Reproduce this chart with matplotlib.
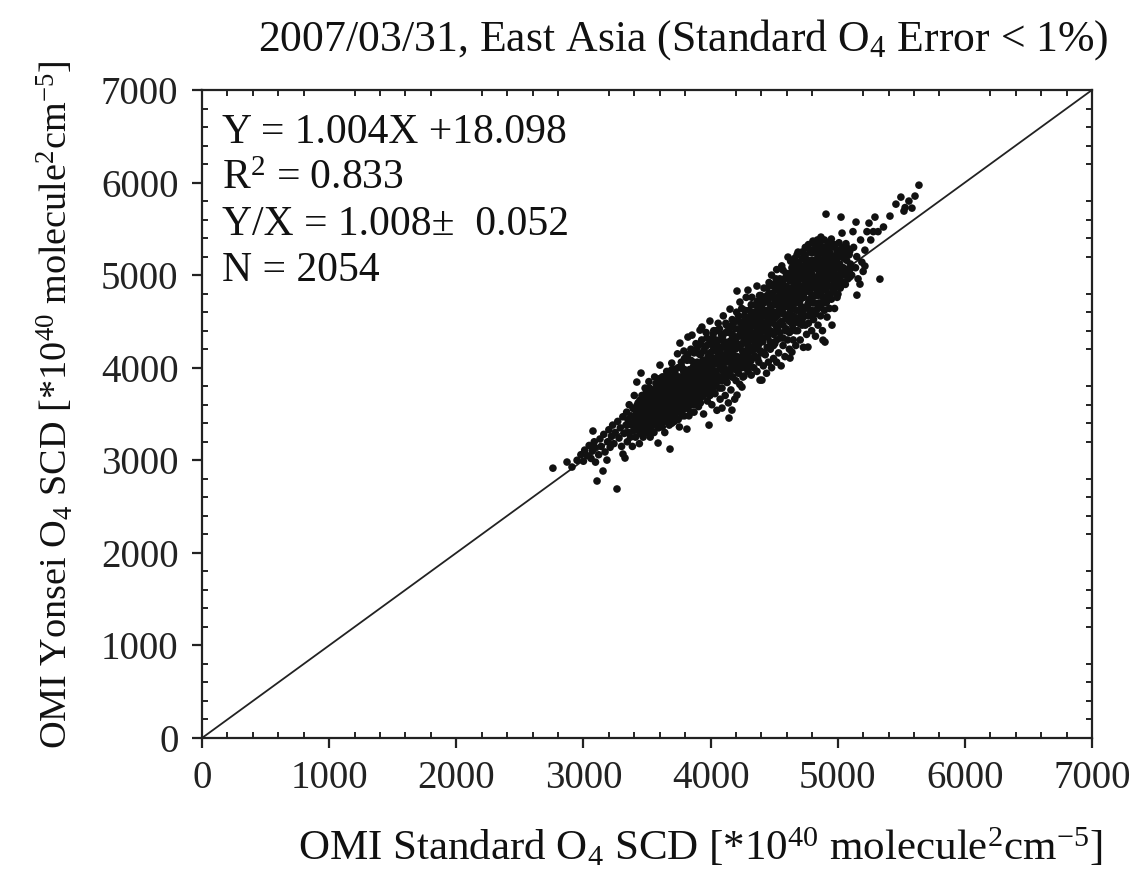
import numpy as np
import matplotlib
matplotlib.use("Agg")
import matplotlib.pyplot as plt
from matplotlib.ticker import MultipleLocator

plt.rcParams["font.family"] = ["Liberation Serif", "DejaVu Serif"]
plt.rcParams["mathtext.fontset"] = "custom"
plt.rcParams["mathtext.rm"] = "Liberation Serif"
plt.rcParams["mathtext.it"] = "Liberation Serif:italic"
plt.rcParams["mathtext.bf"] = "Liberation Serif:bold"

# --- data (OMI Standard, OMI Yonsei) ---------------------------------------
tail_low = [
    (2760, 2915), (2871, 2981), (2910, 2927), (2950, 3000), (2980, 3060), (3000, 2990),
    (3010, 3110), (3030, 3050), (3045, 3160), (3060, 3020), (3070, 3100), (3075, 3316),
    (3085, 3200), (3090, 3140), (3095, 2980), (3107, 2776), (3120, 3060), (3130, 3230),
    (3140, 3150), (3154, 2884), (3160, 3280), (3170, 3090), (3185, 3002), (3190, 3200),
    (3200, 3330), (3210, 3140), (3220, 3260), (3230, 3380), (3240, 3180), (3250, 3300),
    (3264, 2690), (3270, 3420), (3280, 3240), (3290, 3350), (3300, 3150), (3311, 3067),
    (3327, 3024), (3310, 3470), (3320, 3290),
]

band_mid = [
    (3335, 3380), (3340, 3520), (3345, 3200), (3350, 3440), (3355, 3300), (3360, 3600),
    (3370, 3250), (3375, 3480), (3380, 3380), (3385, 3150), (3390, 3560), (3395, 3320),
    (3400, 3420), (3400, 3700), (3410, 3250), (3415, 3500), (3420, 3845), (3425, 3360),
    (3430, 3620), (3435, 3450), (3440, 3180), (3445, 3550), (3450, 3300), (3453, 3942),
    (3455, 3400), (3460, 3700), (3465, 3500), (3470, 3250), (3475, 3620), (3480, 3380),
    (3485, 3780), (3490, 3460), (3495, 3560), (3500, 3320), (3505, 3650), (3510, 3420),
    (3515, 3850), (3520, 3520), (3525, 3250), (3530, 3600), (3535, 3380), (3540, 3720),
    (3545, 3470), (3550, 3560), (3555, 3300), (3560, 3900), (3565, 3650), (3570, 3420),
    (3575, 3780), (3580, 3520), (3585, 3600), (3587, 3186), (3590, 3350), (3595, 3700),
    (3600, 3460), (3602, 4028), (3605, 3580), (3610, 3820), (3615, 3400), (3620, 3660),
    (3625, 3520), (3630, 3900), (3635, 3740), (3640, 3300), (3645, 3600), (3650, 3450),
    (3655, 3960), (3660, 3680), (3665, 3540), (3670, 3820), (3675, 3380), (3680, 3620),
    (3681, 3121), (3685, 3750), (3690, 3480), (3695, 4050), (3700, 3560), (3705, 3880),
    (3710, 3700), (3715, 3420), (3720, 3980), (3725, 3620), (3730, 3800), (3735, 3520),
    (3740, 4150), (3745, 3700), (3750, 3900), (3755, 3360), (3759, 4266), (3760, 3620),
    (3765, 3780), (3770, 4020), (3775, 3480), (3780, 3860), (3785, 3680), (3790, 4180),
    (3795, 3560), (3800, 3940), (3805, 3760), (3810, 3620), (3814, 3337), (3815, 4080),
    (3820, 3880), (3822, 4331), (3825, 3700), (3830, 3480), (3835, 3980), (3840, 3820),
    (3845, 4200), (3850, 3600), (3854, 4352), (3855, 3900), (3860, 3740), (3865, 4060),
    (3870, 3520), (3875, 3960), (3880, 3820), (3885, 4260), (3890, 3680), (3895, 4000),
    (3900, 3880), (3905, 3580), (3910, 4150), (3915, 3780), (3917, 4406), (3920, 3960),
    (3925, 3680), (3930, 4300), (3932, 4439), (3935, 3860), (3940, 4080), (3945, 3500),
    (3950, 3980), (3955, 4220), (3960, 3760), (3965, 4380), (3970, 3900), (3975, 3640),
    (3980, 4120), (3985, 3820), (3988, 3380), (3990, 4020), (3995, 4504), (3995, 3700),
    (4000, 4260),
]

band_upper = [
    (4005, 3920), (4010, 3600), (4015, 4180), (4020, 3820), (4025, 4400), (4030, 4040),
    (4035, 3720), (4040, 4300), (4045, 3960), (4050, 3540), (4055, 4120), (4060, 4480),
    (4065, 3860), (4070, 4220), (4075, 3660), (4080, 4000), (4085, 4360), (4090, 3564),
    (4090, 3780), (4095, 4140), (4100, 4560), (4105, 3940), (4110, 4280), (4115, 3700),
    (4120, 4060), (4125, 4460), (4130, 3840), (4135, 4180), (4140, 3620), (4145, 3456),
    (4145, 4380), (4150, 3980), (4153, 4633), (4155, 4100), (4160, 3760), (4165, 4300),
    (4168, 3542), (4170, 4520), (4175, 3900), (4180, 4200), (4185, 4040), (4190, 3660),
    (4195, 4420), (4200, 3860), (4205, 4600), (4208, 3704), (4208, 4828), (4210, 4120),
    (4215, 3980), (4220, 4340), (4225, 4500), (4230, 3820), (4231, 4709), (4235, 4240),
    (4240, 4060), (4245, 4640), (4247, 3791), (4250, 4400), (4255, 3899), (4260, 4160),
    (4263, 3910), (4265, 4560), (4270, 4000), (4275, 4300), (4280, 4760), (4285, 4080),
    (4290, 4460), (4294, 4838), (4295, 3960), (4300, 4220), (4305, 4620), (4310, 4060),
    (4315, 4380), (4320, 3920), (4325, 4760), (4330, 4180), (4335, 4520), (4340, 4000),
    (4345, 4300), (4350, 4680), (4355, 4120), (4360, 4440), (4365, 4882), (4365, 3960),
    (4370, 4580), (4375, 4240), (4380, 4060), (4385, 4780), (4389, 3866), (4390, 4360),
    (4395, 4500), (4400, 4160), (4404, 3866), (4405, 4640), (4410, 4280), (4415, 4020),
    (4420, 4860), (4425, 4420), (4430, 4140), (4435, 4560), (4440, 3940), (4445, 4720),
    (4450, 4340), (4455, 4060), (4460, 4920), (4465, 4480), (4470, 4200), (4475, 4620),
    (4480, 4000), (4485, 4800), (4490, 4380), (4495, 4100), (4500, 4680), (4505, 4260),
    (4510, 4540), (4515, 4960), (4520, 4060), (4525, 4420), (4530, 4760), (4535, 4160),
    (4540, 4620), (4545, 4320), (4550, 4880), (4555, 4020), (4560, 4500), (4565, 4700),
    (4570, 5054), (4570, 4240), (4575, 4580), (4580, 4840), (4585, 4120), (4590, 4400),
    (4595, 4980), (4600, 4660), (4605, 4300), (4609, 5195), (4610, 4520), (4615, 4800),
    (4620, 4200), (4625, 4104), (4625, 4940), (4630, 4620), (4635, 4400), (4640, 4169),
    (4640, 5080), (4645, 4720), (4650, 4300), (4655, 4880), (4660, 4500), (4665, 5000),
    (4670, 4240), (4675, 4620), (4680, 4780), (4685, 4400), (4688, 5249), (4690, 4940),
    (4695, 4540), (4700, 4840),
]

band_top = [
    (4705, 4300), (4710, 5100), (4715, 4660), (4720, 4460), (4725, 4960), (4730, 4220),
    (4735, 4760), (4740, 5200), (4745, 4560), (4750, 4880), (4755, 4360), (4760, 5040),
    (4765, 4680), (4766, 4223), (4770, 4480), (4775, 5280), (4780, 4820), (4785, 4600),
    (4790, 4980), (4795, 4400), (4800, 5160), (4805, 5368), (4805, 4700), (4810, 4520),
    (4815, 4900), (4820, 5080), (4825, 4340), (4830, 4620), (4835, 5240), (4840, 4800),
    (4845, 4460), (4850, 5000), (4855, 4700), (4860, 5300), (4865, 4560), (4868, 5411),
    (4870, 4900), (4875, 5140), (4880, 4400), (4884, 4298), (4885, 4760), (4890, 5040),
    (4895, 4620), (4900, 4277), (4900, 4960), (4905, 5200), (4908, 5659), (4910, 4700),
    (4915, 4880), (4916, 4547), (4920, 5320), (4925, 4800), (4930, 5060), (4935, 4640),
    (4940, 5240), (4945, 4960), (4950, 4740), (4955, 4460), (4960, 5140), (4965, 4860),
    (4970, 5000), (4975, 4640), (4980, 5300), (4985, 4900), (4990, 5080), (4995, 4760),
    (5000, 5200), (5002, 4795), (5010, 4980), (5015, 5120), (5020, 4860), (5026, 5627),
    (5030, 5280), (5034, 5454), (5040, 5000), (5050, 5180), (5060, 4900), (5065, 5340),
    (5070, 5060), (5080, 4960), (5090, 5220), (5100, 5120), (5110, 5000), (5120, 5470),
    (5125, 5300), (5140, 5080), (5144, 5573), (5150, 5200), (5151, 4784), (5160, 4960),
    (5175, 4903), (5180, 5380), (5190, 5140), (5200, 5040), (5214, 5270), (5214, 5098),
    (5230, 5470), (5246, 5562), (5260, 5380), (5280, 5470), (5293, 5627), (5317, 5470),
    (5332, 4957), (5360, 5520), (5411, 5638), (5458, 5767), (5497, 5843), (5521, 5692),
    (5530, 5730), (5560, 5800), (5584, 5724), (5608, 5854), (5639, 5972),
    (4720, 5250), (4745, 5300), (4770, 5330), (4790, 5260), (4815, 5340), (4840, 5380),
    (4860, 5350), (4880, 5300), (4895, 5380), (4930, 5350), (4950, 5390), (4975, 5330),
    (5010, 5350), (5040, 5300), (4660, 5180), (4680, 5220), (4630, 5150), (4560, 5100),
    (4520, 5060), (4480, 5000),
]

core = [
    (3412, 3420), (3428, 3560), (3442, 3400), (3458, 3620), (3472, 3480), (3488, 3660),
    (3502, 3540), (3518, 3700), (3532, 3480), (3548, 3680), (3562, 3560), (3578, 3740),
    (3592, 3620), (3608, 3700), (3622, 3580), (3638, 3820), (3652, 3660), (3668, 3760),
    (3682, 3860), (3698, 3700), (3712, 3760), (3728, 3900), (3742, 3640), (3758, 3820),
    (3772, 3700), (3788, 3960), (3802, 3800), (3818, 3680), (3832, 3920), (3848, 3760),
    (3862, 4000), (3878, 3700), (3892, 3860), (3908, 4040), (3922, 3820), (3938, 3960),
    (3952, 3740), (3968, 4080), (3982, 3900), (3998, 4160), (4012, 3980), (4028, 3800),
    (4042, 4080), (4058, 3900), (4072, 4160), (4088, 3980), (4102, 4240), (4118, 3920),
    (4132, 4080), (4148, 4200), (4162, 3980), (4178, 4340), (4192, 4120), (4208, 4260),
    (4222, 4040), (4238, 4380), (4252, 4180), (4268, 4440), (4282, 4260), (4298, 4120),
    (4312, 4480), (4328, 4300), (4342, 4600), (4358, 4380), (4372, 4700), (4388, 4520),
    (4402, 4400), (4418, 4740), (4432, 4560), (4448, 4460), (4462, 4800), (4478, 4580),
    (4492, 4880), (4508, 4720), (4522, 4600), (4538, 4900), (4552, 4760), (4568, 4640),
    (4582, 4960), (4598, 4800), (4612, 4680), (4628, 5020), (4642, 4860), (4658, 4740),
    (4672, 5060), (4688, 4900), (4702, 4720), (4718, 5020), (4732, 4860), (4748, 5120),
    (4762, 4920), (4778, 4720), (4792, 5080), (4808, 4960), (4822, 4780), (4838, 5140),
    (4852, 4880), (4868, 5060), (4882, 4920), (4898, 5100), (4912, 5000), (4928, 4880),
    (4942, 5100), (4958, 5020), (4972, 4820), (4988, 5160),
]

# dense centre of the cloud, read column by column: (OMI Standard, [OMI Yonsei ...])
core_columns = [
    (3420, [3330, 3470, 3590]), (3445, [3290, 3380, 3520, 3650]),
    (3470, [3340, 3430, 3560, 3700]), (3495, [3300, 3400, 3500, 3620, 3730]),
    (3520, [3360, 3450, 3580, 3660, 3780]), (3545, [3310, 3420, 3520, 3620, 3760]),
    (3570, [3380, 3480, 3590, 3700, 3830]), (3595, [3420, 3540, 3640, 3760, 3880]),
    (3620, [3360, 3470, 3560, 3700, 3790, 3900]), (3645, [3420, 3520, 3660, 3740, 3860]),
    (3670, [3460, 3580, 3700, 3800, 3920]), (3695, [3400, 3520, 3640, 3780, 3860, 3980]),
    (3720, [3480, 3560, 3680, 3840, 3940]), (3745, [3440, 3580, 3760, 3860, 4000]),
    (3770, [3520, 3620, 3740, 3900, 4060]), (3795, [3480, 3640, 3720, 3860, 3980, 4100]),
    (3820, [3560, 3760, 3820, 3960, 4140]), (3845, [3520, 3660, 3880, 3980, 4080]),
    (3870, [3600, 3800, 3900, 4020, 4160]), (3895, [3660, 3760, 3940, 4060, 4220]),
    (3920, [3620, 3720, 3880, 4020, 4140, 4260]), (3945, [3700, 3820, 3920, 4040, 4180]),
    (3970, [3760, 3860, 3980, 4080, 4240, 4320]), (3995, [3800, 3920, 4060, 4160, 4300]),
    (4020, [3740, 3860, 3960, 4100, 4240, 4360]), (4045, [3840, 3920, 4040, 4180, 4260, 4400]),
    (4070, [3780, 3900, 4060, 4120, 4300, 4420]), (4095, [3860, 4020, 4080, 4220, 4340]),
    (4120, [3880, 3980, 4120, 4240, 4380, 4480]), (4145, [3940, 4060, 4140, 4280, 4420]),
    (4170, [3900, 4020, 4140, 4240, 4360, 4460]), (4195, [3980, 4080, 4200, 4300, 4500]),
    (4220, [3940, 4100, 4220, 4420, 4560]), (4245, [4000, 4120, 4260, 4340, 4480]),
    (4270, [4060, 4180, 4320, 4400, 4520, 4620]), (4295, [4020, 4160, 4280, 4380, 4540]),
    (4320, [4080, 4220, 4320, 4440, 4580, 4680]), (4345, [4120, 4240, 4360, 4460, 4560]),
    (4370, [4100, 4200, 4320, 4480, 4620, 4720]), (4395, [4180, 4280, 4420, 4560, 4660, 4780]),
    (4420, [4160, 4320, 4460, 4580, 4700]), (4445, [4220, 4380, 4500, 4620, 4780, 4860]),
    (4470, [4280, 4400, 4540, 4680, 4760]), (4495, [4240, 4360, 4480, 4600, 4760, 4900]),
    (4520, [4300, 4440, 4560, 4680, 4840, 4920]), (4545, [4380, 4480, 4600, 4720, 4800, 4960]),
    (4570, [4320, 4460, 4660, 4760, 4900]), (4595, [4420, 4540, 4700, 4780, 4880, 5020]),
    (4620, [4380, 4500, 4580, 4740, 4860, 5000]), (4645, [4460, 4560, 4660, 4800, 4940, 5060]),
    (4670, [4400, 4540, 4700, 4840, 4920, 5120]), (4695, [4480, 4620, 4740, 4860, 5000, 5140]),
    (4720, [4520, 4600, 4780, 4880, 5060, 5180]), (4745, [4460, 4640, 4820, 4940, 5000, 5220]),
    (4770, [4560, 4700, 4840, 4920, 5080, 5160]), (4795, [4620, 4760, 4880, 5020, 5120, 5240]),
    (4820, [4580, 4700, 4860, 4960, 5160, 5280]), (4845, [4640, 4780, 4940, 5060, 5200]),
    (4870, [4680, 4820, 4980, 5100, 5240]), (4895, [4720, 4840, 4940, 5060, 5180, 5300]),
    (4920, [4760, 4900, 5020, 5140, 5260]), (4945, [4800, 4880, 5040, 5180, 5300]),
    (4970, [4860, 4940, 5060, 5200]), (4995, [4900, 5000, 5120, 5260]),
    (5020, [4940, 5060, 5200]), (5045, [4920, 5080, 5240]),
    (5070, [5000, 5160, 5300]), (5095, [4980, 5060, 5260]),
]

fit_text = [
    "Y = 1.004X +18.098",
    r"R$^2$ = 0.833",
    "Y/X = 1.008\u00b1  0.052",
    "N = 2054",
]

column_pts = [(x, y) for x, ys in core_columns for y in ys]
pts = np.array(tail_low + band_mid + band_upper + band_top + core + column_pts, dtype=float)
scd_std, scd_yonsei = pts[:, 0], pts[:, 1]

fig = plt.figure(figsize=(11.4, 8.82), dpi=100)
ax = fig.add_axes([202 / 1140, 1 - 738 / 882, 890 / 1140, 648 / 882])

ax.plot([0, 7000], [0, 7000], color="#222222", linewidth=1.3, zorder=1)
ax.scatter(scd_std, scd_yonsei, s=30, color="#111111", edgecolors="none", zorder=2)

ax.set_xlim(0, 7000)
ax.set_ylim(0, 7000)
ax.xaxis.set_major_locator(MultipleLocator(1000))
ax.yaxis.set_major_locator(MultipleLocator(1000))
ax.xaxis.set_minor_locator(MultipleLocator(200))
ax.yaxis.set_minor_locator(MultipleLocator(200))

for sp in ax.spines.values():
    sp.set_linewidth(1.6)
    sp.set_color("#222222")

ax.tick_params(which="major", direction="out", length=7, width=1.6,
               top=False, right=False, labelsize=28, colors="#222222")
ax.tick_params(axis="x", which="major", pad=9)
ax.tick_params(axis="y", which="major", pad=10)
ax.tick_params(which="minor", direction="in", length=4.5, width=1.4,
               top=True, right=True, bottom=True, left=True, color="#222222")

for i, line in enumerate(fit_text):
    ax.text(222 / 1140, 1 - (143 + 46 * i) / 882, line, transform=fig.transFigure,
            fontsize=30, ha="left", va="baseline", color="#111111")

fig.text(683 / 1140, 1 - 40 / 882,
         r"2007/03/31, East Asia (Standard O$_4$ Error < 1%)",
         fontsize=31.5, ha="center", va="center", color="#111111")
fig.text(700 / 1140, 1 - 848 / 882,
         r"OMI Standard O$_4$ SCD [*10$^{40}$ molecule$^2$cm$^{-5}$]",
         fontsize=31, ha="center", va="center", color="#111111")
fig.text(55 / 1140, 1 - 405 / 882,
         r"OMI Yonsei O$_4$ SCD [*10$^{40}$ molecule$^2$cm$^{-5}$]",
         fontsize=27.5, ha="center", va="center", rotation=90, color="#111111")

fig.savefig("out.png", dpi=100)
